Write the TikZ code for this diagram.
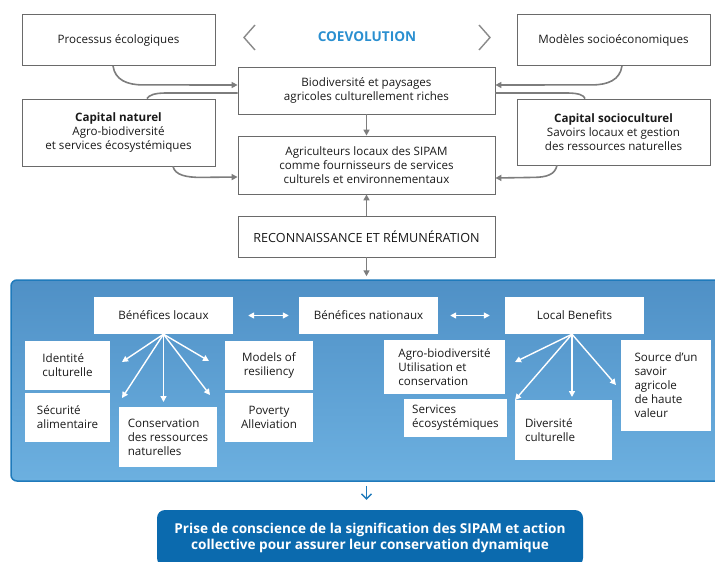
\documentclass[tikz,border=0pt]{standalone}
\usepackage{fontspec}
\setmainfont{Open Sans}
\usetikzlibrary{arrows.meta,calc}
\definecolor{txt}{HTML}{1A1A1A}
\definecolor{boxgray}{HTML}{6A6A6A}
\definecolor{argray}{HTML}{7D7D7D}
\definecolor{coev}{HTML}{2A8FD0}
\definecolor{ptop}{HTML}{4F90C6}
\definecolor{pbot}{HTML}{6CB0E0}
\definecolor{pborder}{HTML}{1F7ABB}
\definecolor{darkblue}{HTML}{0B6AAE}
\begin{document}
\begin{tikzpicture}[x=1pt,y=-1pt,
  txtfont/.style={font=\fontsize{11.6}{14}\selectfont, text=txt},
  gbox/.style={draw=boxgray, line width=0.8pt, fill=white, inner sep=0pt, align=center, txtfont},
  wbox/.style={fill=white, inner sep=0pt, align=center, txtfont},
  gline/.style={draw=argray, line width=1.6pt},
  garr/.style={gline, -{Triangle[length=6pt,width=6pt]}},
  warr/.style={draw=white, line width=1.4pt, -{Triangle[length=6pt,width=6pt]}},
  wdbl/.style={draw=white, line width=1.4pt, {Triangle[length=6pt,width=6pt]}-{Triangle[length=6pt,width=6pt]}},
  chev/.style={draw=argray!90, line width=1.4pt},
]
\useasboundingbox (0,0) rectangle (715,562);

% top boxes
\node[gbox, minimum width=193pt, minimum height=51pt] (proc) at (118.5,40) {Processus écologiques};
\node[gbox, minimum width=193pt, minimum height=51pt] (mod) at (613.5,40) {Modèles socioéconomiques};
\node[font=\fontsize{13.6}{16}\selectfont\bfseries, text=coev] (coev) at (367,37) {COEVOLUTION};
\draw[chev] (255,25) -- (244,37.5) -- (255,50);
\draw[chev] (479,25) -- (490,37.5) -- (479,50);

\node[gbox, minimum width=257pt, minimum height=47pt] (bio) at (366.5,90.5) {Biodiversité et paysages\\agricoles culturellement riches};
\node[gbox, minimum width=193pt, minimum height=67pt] (capn) at (118.5,132.5) {\textbf{Capital naturel}\\Agro-biodiversité\\et services écosystémiques};
\node[gbox, minimum width=193pt, minimum height=66pt] (caps) at (613.5,132) {\textbf{Capital socioculturel}\\Savoirs locaux et gestion\\des ressources naturelles};
\node[gbox, minimum width=257pt, minimum height=58pt] (agr) at (366.5,165) {Agriculteurs locaux des SIPAM\\comme fournisseurs de services\\culturels et environnementaux};
\node[gbox, minimum width=257pt, minimum height=41pt, font=\fontsize{12.6}{14}\selectfont] (rec) at (366.5,236.5) {RECONNAISSANCE ET RÉMUNÉRATION};

% top connectors
\draw[garr] ([xshift=-5.5pt]proc.south) .. controls +(2,14) and +(-16,0) .. ++(30,19) -- ([yshift=5.5pt]bio.west);
\draw[gline] ([yshift=-2.5pt]bio.west) -- (166,93) .. controls (155,93) and (149,95) .. ([xshift=28.5pt]capn.north);
\draw[garr] ([xshift=54.5pt]capn.south) .. controls +(2,9) and +(-14,0) .. ++(28,11) -- ([yshift=-12pt]agr.west);
\draw[garr] ([xshift=8.5pt]mod.south) .. controls +(-2,14) and +(16,0) .. ++(-30,19) -- ([yshift=5.5pt]bio.east);
\draw[gline] ([yshift=-2.5pt]bio.east) -- (567,93) .. controls (578,93) and (584,95) .. ([xshift=-28.5pt]caps.north);
\draw[garr] ([xshift=-56.5pt]caps.south) .. controls +(-2,9) and +(14,0) .. ++(-24,12) -- ([yshift=-13pt]agr.east);
\draw[garr] (bio.south) -- (agr.north);
\draw[garr] (rec.north) -- (agr.south);

% panel
\node[draw=pborder, line width=1.5pt, rounded corners=6pt, top color=ptop, bottom color=pbot, minimum width=714pt, minimum height=201pt, inner sep=0pt] (panel) at (368,380.5) {};
\draw[garr, shorten >=3pt] (rec.south) -- (rec.south |- panel.north);

\node[wbox, minimum width=139pt, minimum height=37pt] (bl) at (163.5,315.5) {Bénéfices locaux};
\node[wbox, minimum width=139pt, minimum height=37pt] (bn) at (368.5,315.5) {Bénéfices nationaux};
\node[wbox, minimum width=139pt, minimum height=37pt] (lb) at (574.5,315.5) {Local Benefits};
\draw[wdbl, shorten <=15pt, shorten >=10pt] (bl.east) -- (bn.west);
\draw[wdbl, shorten <=12pt, shorten >=15pt] (bn.east) -- (lb.west);

\node[wbox, align=left, minimum width=85pt, minimum height=49pt] (id) at (67.5,365.5) {Identité\\culturelle};
\node[wbox, align=left, minimum width=85pt, minimum height=49pt] (se) at (67.5,417.5) {Sécurité\\alimentaire};
\node[wbox, align=left, minimum width=98pt, minimum height=60pt] (co) at (168,437) {Conservation\\des ressources\\naturelles};
\node[wbox, minimum width=88pt, minimum height=49pt] (mo) at (269,365.5) {Models of\\resiliency};
\node[wbox, minimum width=88pt, minimum height=49pt] (po) at (269,417.5) {Poverty\\Alleviation};

\node[wbox, align=left, minimum width=121pt, minimum height=54pt] (ag) at (444.5,367) {Agro-biodiversité\\Utilisation et\\conservation};
\node[wbox, align=left, minimum width=103pt, minimum height=38pt] (sv) at (455.5,418) {Services\\écosystémiques};
\node[wbox, align=left, text width=77pt, minimum height=60pt, inner xsep=10pt] (dv) at (563.5,430) {Diversité\\culturelle};
\node[wbox, align=left, minimum width=90pt, minimum height=91pt] (so) at (666,385.5) {Source d'un\\savoir\\agricole\\de haute\\valeur};

% fan arrows
\coordinate (a1) at (122,362);
\coordinate (a2) at (122,398);
\coordinate (a3) at (163.5,402);
\coordinate (a4) at (210,395);
\coordinate (a5) at (209,361);
\foreach \t in {a1,a2,a3,a4,a5} \draw[warr] (bl.south) -- (\t);
\coordinate (b1) at (515,362);
\coordinate (b2) at (515,400);
\coordinate (b3) at (572,397);
\coordinate (b4) at (616,385);
\foreach \t in {b1,b2,b3,b4} \draw[warr] ([xshift=-2.5pt]lb.south) -- (\t);

% bottom
\node[fill=darkblue, rounded corners=8pt, minimum width=426pt, minimum height=56pt, inner sep=0pt, align=center, text=white, font=\fontsize{13.6}{16}\selectfont\bfseries] (bot) at (370,538) {Prise de conscience de la signification des SIPAM et action\\collective pour assurer leur conservation dynamique};
\draw[draw=pborder, line width=1.4pt, -{Straight Barb[length=5pt,width=10pt]}] ([yshift=-4pt]panel.south -| rec.south) -- ([yshift=10pt]bot.north -| rec.south);
\end{tikzpicture}
\end{document}
